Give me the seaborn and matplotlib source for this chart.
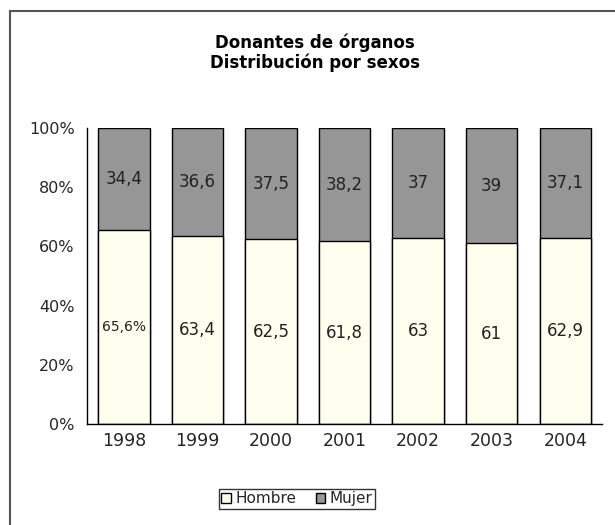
import matplotlib
matplotlib.use("Agg")
import matplotlib.pyplot as plt
from matplotlib.patches import Patch, Rectangle
import seaborn as sns
import pandas as pd
import numpy as np

years = ["1998", "1999", "2000", "2001", "2002", "2003", "2004"]
hombre = [65.6, 63.4, 62.5, 61.8, 63, 61, 62.9]
mujer = [34.4, 36.6, 37.5, 38.2, 37, 39, 37.1]
hombre_labels = ["65,6%", "63,4", "62,5", "61,8", "63", "61", "62,9"]
mujer_labels = ["34,4", "36,6", "37,5", "38,2", "37", "39", "37,1"]
yticks = [0, 20, 40, 60, 80, 100]
ytick_labels = ["0%", "20%", "40%", "60%", "80%", "100%"]

sns.set_style("white")
plt.rcParams['font.family'] = ['DejaVu Sans']

df = pd.DataFrame({"year": years, "hombre": hombre, "mujer": mujer})
df["total"] = df["hombre"] + df["mujer"]

fig = plt.figure(figsize=(6.15, 5.25), dpi=100)
ax = fig.add_axes([0.1415, 0.1924, 0.979 - 0.1415, 0.756 - 0.1924])

c_h = "#FFFFF0"
c_m = "#969696"
sns.barplot(data=df, x="year", y="total", color=c_m, width=0.70,
            edgecolor="black", linewidth=1.0, saturation=1, ax=ax)
sns.barplot(data=df, x="year", y="hombre", color=c_h, width=0.70,
            edgecolor="black", linewidth=1.0, saturation=1, ax=ax)

for i in range(len(years)):
    fs = 10 if i == 0 else 12
    ax.text(i, hombre[i] / 2, hombre_labels[i], ha="center", va="center",
            fontsize=fs, color="#222222")
    ax.text(i, hombre[i] + mujer[i] / 2, mujer_labels[i], ha="center",
            va="center", fontsize=12, color="#222222")

ax.set_xlim(-0.5, 6.5)
ax.set_ylim(0, 100)
ax.set_yticks(yticks)
ax.set_yticklabels(ytick_labels, fontsize=11.5)
ax.set_xticks(np.arange(-0.5, 7, 1))
ax.set_xticklabels([""] * 8)
ax.set_xticks(range(len(years)), minor=True)
ax.set_xticklabels(years, minor=True, fontsize=12.5)
ax.tick_params(axis="x", which="minor", length=0, pad=6)
ax.tick_params(axis="x", which="major", length=5, width=1, direction="out", color="black")
ax.tick_params(axis="y", length=5, width=1, direction="out", color="black", pad=4)
ax.set_xlabel("")
ax.set_ylabel("")
for s in ["top", "right"]:
    ax.spines[s].set_visible(False)
for s in ["left", "bottom"]:
    ax.spines[s].set_color("black")
    ax.spines[s].set_linewidth(1)

fig.text(0.512, 0.918, "Donantes de órganos", ha="center", va="center",
         fontsize=12, fontweight="bold", color="black")
fig.text(0.512, 0.881, "Distribución por sexos", ha="center", va="center",
         fontsize=12, fontweight="bold", color="black")

handles = [Patch(facecolor=c_h, edgecolor="black", label="Hombre"),
           Patch(facecolor=c_m, edgecolor="black", label="Mujer")]
leg = fig.legend(handles=handles, loc="center", bbox_to_anchor=(0.483, 0.05),
                 ncol=2, frameon=True, fancybox=False, fontsize=11,
                 handlelength=0.6, handleheight=0.6, handletextpad=0.3,
                 columnspacing=1.3, borderpad=0.15, borderaxespad=0)
leg.get_frame().set_edgecolor("black")
leg.get_frame().set_linewidth(1)

fig.patches.append(Rectangle((9.5 / 615, -0.1), 1.2, 1.1 - 11 / 525,
                             transform=fig.transFigure, fill=False,
                             edgecolor="#555555", linewidth=1.5))

fig.savefig("out.png", dpi=100)
